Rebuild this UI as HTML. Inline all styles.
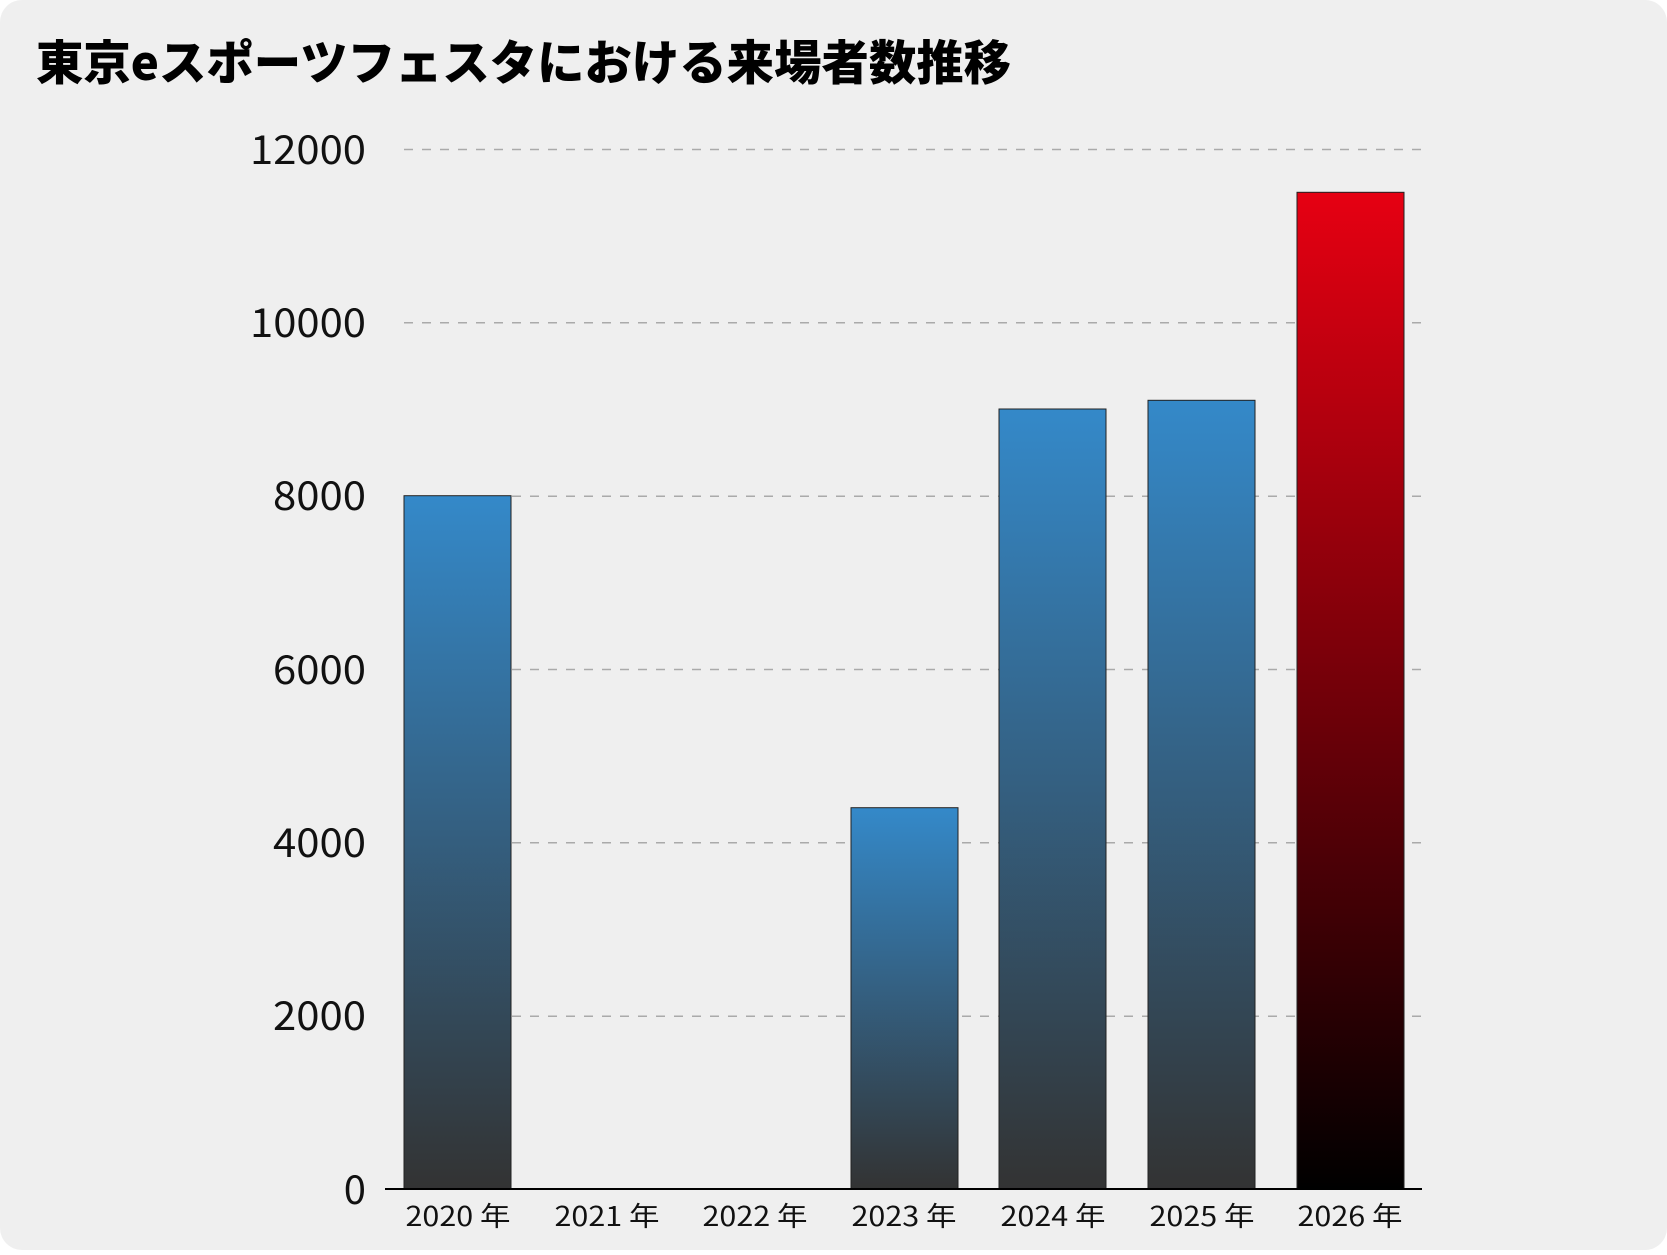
<!DOCTYPE html>
<html><head><meta charset="utf-8"><style>
html,body{margin:0;padding:0;background:#fff;}
body{width:1667px;height:1250px;overflow:hidden;}
</style></head><body>
<svg width="1667" height="1250" xmlns="http://www.w3.org/2000/svg" font-family="'Liberation Sans','Noto Sans CJK JP',sans-serif">
<defs>
<linearGradient id="b" x1="0" y1="0" x2="0" y2="1"><stop offset="0" stop-color="#3489c9"/><stop offset="1" stop-color="#333333"/></linearGradient>
<linearGradient id="r" x1="0" y1="0" x2="0" y2="1"><stop offset="0" stop-color="#e60012"/><stop offset="1" stop-color="#000000"/></linearGradient>
</defs>
<rect x="0" y="0" width="1667" height="1250" rx="22" fill="#efefef"/>
<text x="36" y="80" font-size="47.5" font-weight="900" font-family="'Noto Sans CJK JP',sans-serif" fill="#000" textLength="975" lengthAdjust="spacingAndGlyphs">東京eスポーツフェスタにおける来場者数推移</text>
<g stroke="#aaa" stroke-width="1.5" stroke-dasharray="9,9">
<line x1="404" y1="149.5" x2="1422" y2="149.5"/>
<line x1="404" y1="322.8" x2="1422" y2="322.8"/>
<line x1="404" y1="496.2" x2="1422" y2="496.2"/>
<line x1="404" y1="669.5" x2="1422" y2="669.5"/>
<line x1="404" y1="842.8" x2="1422" y2="842.8"/>
<line x1="404" y1="1016.2" x2="1422" y2="1016.2"/>
</g>
<g font-size="40" fill="#111" text-anchor="end" font-family="'Noto Sans CJK JP',sans-serif" lengthAdjust="spacingAndGlyphs">
<text x="366" y="164" textLength="116" lengthAdjust="spacingAndGlyphs">12000</text>
<text x="366" y="337" textLength="116" lengthAdjust="spacingAndGlyphs">10000</text>
<text x="366" y="510" textLength="93" lengthAdjust="spacingAndGlyphs">8000</text>
<text x="366" y="684" textLength="93" lengthAdjust="spacingAndGlyphs">6000</text>
<text x="366" y="857" textLength="93" lengthAdjust="spacingAndGlyphs">4000</text>
<text x="366" y="1030" textLength="93" lengthAdjust="spacingAndGlyphs">2000</text>
<text x="366" y="1204">0</text>
</g>
<g stroke="#222" stroke-width="1">
<rect x="404" y="495.7" width="107" height="693.3" fill="url(#b)"/>
<rect x="851" y="807.7" width="107" height="381.3" fill="url(#b)"/>
<rect x="999" y="409" width="107" height="780" fill="url(#b)"/>
<rect x="1148" y="400.3" width="107" height="788.7" fill="url(#b)"/>
<rect x="1297" y="192.3" width="107" height="996.7" fill="url(#r)"/>
</g>
<line x1="385" y1="1189" x2="1422" y2="1189" stroke="#000" stroke-width="2"/>
<g font-size="27" fill="#111" text-anchor="middle" font-family="'Noto Sans CJK JP',sans-serif">
<text x="458" y="1226" textLength="105" lengthAdjust="spacingAndGlyphs">2020 年</text>
<text x="607" y="1226" textLength="105" lengthAdjust="spacingAndGlyphs">2021 年</text>
<text x="755" y="1226" textLength="105" lengthAdjust="spacingAndGlyphs">2022 年</text>
<text x="904" y="1226" textLength="105" lengthAdjust="spacingAndGlyphs">2023 年</text>
<text x="1053" y="1226" textLength="105" lengthAdjust="spacingAndGlyphs">2024 年</text>
<text x="1202" y="1226" textLength="105" lengthAdjust="spacingAndGlyphs">2025 年</text>
<text x="1350" y="1226" textLength="105" lengthAdjust="spacingAndGlyphs">2026 年</text>
</g>
</svg>
</body></html>
